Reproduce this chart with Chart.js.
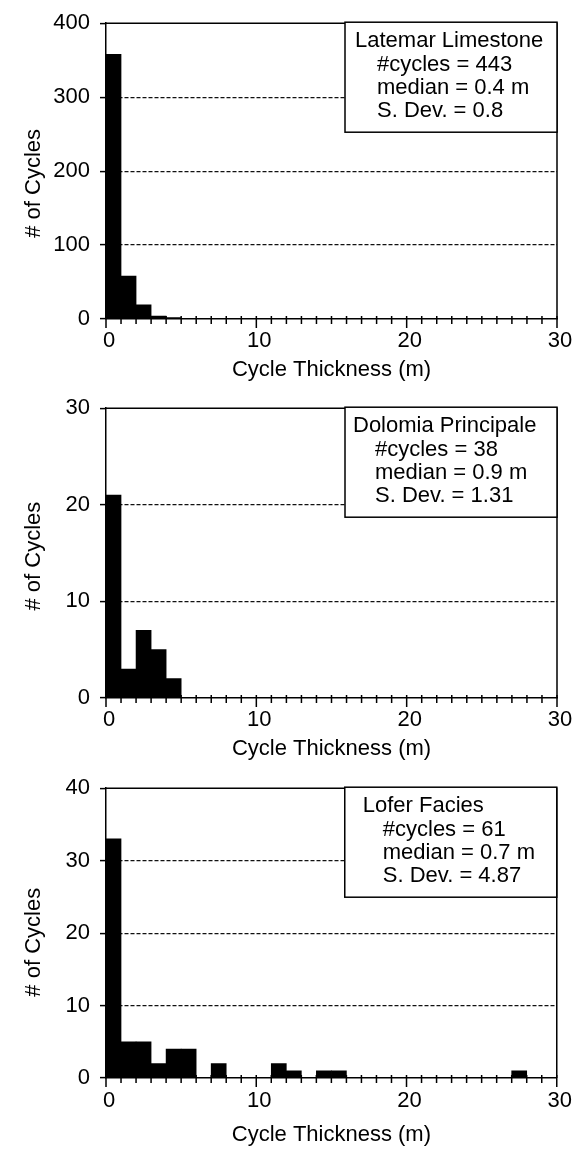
<!DOCTYPE html>
<html>
<head>
<meta charset="utf-8">
<script src="https://cdn.jsdelivr.net/npm/chart.js@4.4.0/dist/chart.umd.min.js"></script>
<style>
  body { margin: 0; background: #fff; }
  #wrap { position: relative; width: 574px; height: 1151px; }
  canvas { position: absolute; left: 0; }
</style>
</head>
<body>
<div id="wrap">
  <canvas id="c1" width="574" height="385" style="top:0px"></canvas>
  <canvas id="c2" width="574" height="380" style="top:385px"></canvas>
  <canvas id="c3" width="574" height="386" style="top:765px"></canvas>
</div>
<script>
// 1 m bins, left edges
var binStart = [0, 1, 2, 3, 4, 5, 6, 7, 8, 9, 10, 11, 12, 13, 14, 15, 16, 17, 18, 19,
                20, 21, 22, 23, 24, 25, 26, 27, 28, 29];

var latemarCounts = [358, 58, 19, 4, 2, 1, 1, 0, 0, 0, 0, 0, 0, 0, 0, 0, 0, 0, 0, 0,
                     0, 0, 0, 0, 0, 0, 0, 0, 0, 0];
var dolomiaCounts = [21, 3, 7, 5, 2, 0, 0, 0, 0, 0, 0, 0, 0, 0, 0, 0, 0, 0, 0, 0,
                     0, 0, 0, 0, 0, 0, 0, 0, 0, 0];
var loferCounts   = [33, 5, 5, 2, 4, 4, 0, 2, 0, 0, 0, 2, 1, 0, 1, 1, 0, 0, 0, 0,
                     0, 0, 0, 0, 0, 0, 0, 1, 0, 0];

var xTickLabels = [0, 10, 20, 30];
var latemarYTicks = [0, 100, 200, 300, 400];
var dolomiaYTicks = [0, 10, 20, 30];
var loferYTicks = [0, 10, 20, 30, 40];

var latemarStats = ["Latemar Limestone", "#cycles = 443", "median = 0.4 m", "S. Dev. = 0.8"];
var dolomiaStats = ["Dolomia Principale", "#cycles = 38", "median = 0.9 m", "S. Dev. = 1.31"];
var loferStats   = ["Lofer Facies", "#cycles = 61", "median = 0.7 m", "S. Dev. = 4.87"];

var FONT = "'Liberation Sans', Arial, Helvetica, sans-serif";
Chart.defaults.font.family = FONT;
Chart.defaults.font.size = 22;
Chart.defaults.color = "#000";

var binCenters = binStart.map(function (b) { return b + 0.5; });

// box frame + crossing tick marks on the x axis
var frameAndTicks = {
    id: "frameAndTicks",
    afterDatasetsDraw: function (chart) {
        var ctx = chart.ctx, a = chart.chartArea, xs = chart.scales.x;
        ctx.save();
        ctx.strokeStyle = "#000";
        ctx.lineWidth = 1.5;
        ctx.beginPath();
        ctx.moveTo(a.left, a.top);
        ctx.lineTo(a.right, a.top);
        ctx.lineTo(a.right, a.bottom);
        ctx.stroke();
        xs.ticks.forEach(function (t) {
            var px = xs.getPixelForValue(t.value);
            var major = xTickLabels.indexOf(t.value) >= 0;
            ctx.beginPath();
            ctx.moveTo(px, a.bottom - 3);
            ctx.lineTo(px, a.bottom + (major ? 9 : 5));
            ctx.stroke();
        });
        ctx.restore();
    }
};

// stats box in the top right corner
var statsBox = {
    id: "statsBox",
    afterDraw: function (chart) {
        var o = chart.options.plugins.statsBox;
        var ctx = chart.ctx, a = chart.chartArea;
        var w = 212, h = 110;
        var left = a.right - w, top = a.top - 1;
        ctx.save();
        ctx.fillStyle = "#fff";
        ctx.fillRect(left, top, w, h);
        ctx.strokeStyle = "#000";
        ctx.lineWidth = 1.5;
        ctx.strokeRect(left, top, w, h);
        ctx.fillStyle = "#000";
        ctx.font = "22px " + FONT;
        ctx.textBaseline = "middle";
        o.lines.forEach(function (line, i) {
            var x = left + (i === 0 ? o.titleX : o.indentX);
            ctx.fillText(line, x, top + 19 + i * 23.3);
        });
        ctx.restore();
    }
};

function makeChart(id, counts, yTicks, stats, p) {
    var yMax = yTicks[yTicks.length - 1];
    return new Chart(document.getElementById(id), {
        type: "bar",
        data: {
            labels: binCenters,
            datasets: [{
                data: counts,
                backgroundColor: "#000",
                borderWidth: 0,
                barPercentage: 1,
                categoryPercentage: 1
            }]
        },
        options: {
            responsive: false,
            animation: false,
            devicePixelRatio: 1,
            layout: { padding: { left: 0, right: 17, top: p.padTop, bottom: 0 } },
            plugins: {
                legend: { display: false },
                tooltip: { enabled: false },
                statsBox: { lines: stats, titleX: p.titleX, indentX: p.indentX }
            },
            scales: {
                x: {
                    type: "linear",
                    min: 0,
                    max: 30,
                    offset: false,
                    grid: { display: true, offset: false, drawOnChartArea: false, drawTicks: true,
                            tickLength: 5, tickColor: "rgba(0,0,0,0)" },
                    border: { color: "#000", width: 1.5 },
                    ticks: {
                        stepSize: 1,
                        autoSkip: false,
                        maxRotation: 0,
                        maxTicksLimit: 40,
                        labelOffset: 3,
                        padding: p.labelPad,
                        callback: function (v) { return xTickLabels.indexOf(v) >= 0 ? String(v) : ""; }
                    },
                    title: { display: true, text: "Cycle Thickness (m)", padding: { top: 0, bottom: p.titlePad } },
                    afterFit: function (s) { s.height = p.xHeight; }
                },
                y: {
                    min: 0,
                    max: yMax,
                    grid: {
                        color: function (c) {
                            return (c.tick && (c.tick.value === 0 || c.tick.value === yMax)) ? "rgba(0,0,0,0)" : "#111";
                        },
                        lineWidth: 1.2,
                        tickColor: "#000",
                        tickWidth: 1.5,
                        tickLength: 6
                    },
                    border: { color: "#000", width: 1.5, dash: [4, 2] },
                    ticks: {
                        stepSize: yTicks[1] - yTicks[0],
                        padding: 10
                    },
                    // trailing spaces nudge the rotated title a little below centre, as in the scan
                    title: { display: true, text: "# of Cycles" + p.yTitlePad, padding: { top: 21, bottom: 0 } },
                    afterFit: function (s) { s.width = 106; }
                }
            }
        },
        plugins: [frameAndTicks, statsBox]
    });
}

makeChart("c1", latemarCounts, latemarYTicks, latemarStats,
    { padTop: 23, xHeight: 66, labelPad: 4, titlePad: 2, titleX: 10, indentX: 32, yTitlePad: "\u00a0\u00a0\u00a0\u00a0" });
makeChart("c2", dolomiaCounts, dolomiaYTicks, dolomiaStats,
    { padTop: 18, xHeight: 67, labelPad: 4, titlePad: 3, titleX: 8, indentX: 30, yTitlePad: "\u00a0" });
makeChart("c3", loferCounts, loferYTicks, loferStats,
    { padTop: 17, xHeight: 73, labelPad: 5, titlePad: 3, titleX: 18, indentX: 38, yTitlePad: "\u00a0\u00a0\u00a0" });
</script>
</body>
</html>
